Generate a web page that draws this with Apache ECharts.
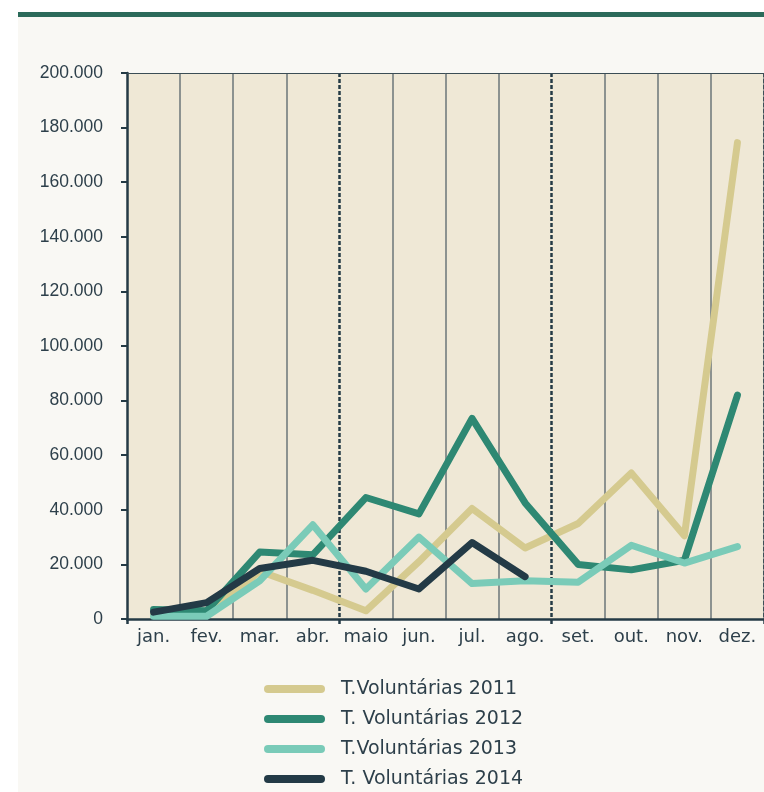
<!DOCTYPE html>
<html>
<head>
<meta charset="utf-8">
<script src="https://cdn.jsdelivr.net/npm/echarts@6/dist/echarts.min.js"></script>
<style>
  html, body { margin: 0; padding: 0; background: #ffffff; }
  #panel { position: absolute; left: 18px; top: 17px; width: 746px; height: 775px; background: #f9f8f4; }
  #bar { position: absolute; left: 18px; top: 12px; width: 746px; height: 5px; background: #2b6a5a; }
  #chart { position: absolute; left: 0; top: 0; width: 764px; height: 792px; }
</style>
</head>
<body>
<div id="panel"></div>
<div id="bar"></div>
<div id="chart"></div>
<script>
const months = ['jan.', 'fev.', 'mar.', 'abr.', 'maio', 'jun.', 'jul.', 'ago.', 'set.', 'out.', 'nov.', 'dez.'];
const names = ['T.Voluntárias 2011', 'T. Voluntárias 2012', 'T.Voluntárias 2013', 'T. Voluntárias 2014'];
const v2011 = [1500, 1500, 17500, 10500, 3000, 21000, 40500, 26000, 35000, 53500, 30500, 174500];
const v2012 = [3500, 3000, 24500, 23500, 44500, 38500, 73500, 42500, 20000, 18000, 21500, 82000];
const v2013 = [1000, 1000, 14000, 34500, 11000, 30000, 13000, 14000, 13500, 27000, 20500, 26500];
const v2014 = [2500, 6000, 18500, 21500, 17500, 11000, 28000, 15500];
const yTicks = { min: 0, max: 200000, step: 20000 };

const colors = ['#d5ca8f', '#2e8873', '#7acbb8', '#233a46'];
const textColor = '#2d3f4a';
const fontY = "'Liberation Sans', Arial, sans-serif";
const fontWide = "'DejaVu Sans', sans-serif";
const capsule = 'path://M4,0 L57,0 A4,4 0 0 1 57,8 L4,8 A4,4 0 0 1 4,0 Z';

function fmt(v) { return String(v).replace(/\B(?=(\d{3})+(?!\d))/g, '.'); }

const seriesData = [v2011, v2012, v2013, v2014];
const chart = echarts.init(document.getElementById('chart'), null, { renderer: 'canvas' });
chart.setOption({
  backgroundColor: 'transparent',
  animation: false,
  color: colors,
  grid: { left: 127, right: 0, top: 73, bottom: 173, show: true, backgroundColor: '#efe8d6', borderWidth: 0 },
  legend: {
    orient: 'vertical', left: 264, top: 679, height: 113, padding: 0,
    itemWidth: 61, itemHeight: 8, itemGap: 10,
    data: names.map(n => ({ name: n, icon: capsule })),
    textStyle: { fontFamily: fontWide, fontSize: 19, color: textColor, lineHeight: 20, padding: [0, 0, 0, 11] }
  },
  xAxis: [
    {
      type: 'category', data: months, boundaryGap: true,
      axisLine: { show: true, lineStyle: { color: '#243a45', width: 2.5 } },
      axisTick: { show: true, length: 5, interval: (i) => i % 4 === 0, lineStyle: { color: '#243a45', width: 2.5 } },
      axisLabel: { fontFamily: fontWide, fontSize: 18, color: textColor, margin: 9, interval: 0 },
      splitLine: { show: true, interval: (i) => i % 4 !== 0, lineStyle: { color: '#6b7679', width: 1.5 } }
    },
    {
      type: 'category', data: months, boundaryGap: true, position: 'top',
      axisLine: { show: true, lineStyle: { color: '#3b4d55', width: 1 } },
      axisTick: { show: false }, axisLabel: { show: false },
      splitLine: { show: true, interval: (i) => i % 4 === 0 && i > 0, lineStyle: { color: '#243a45', width: 2.5, type: [4, 2] } }
    }
  ],
  yAxis: {
    type: 'value', min: yTicks.min, max: yTicks.max, interval: yTicks.step,
    axisLine: { show: true, lineStyle: { color: '#243a45', width: 2.5 } },
    axisTick: { show: true, length: 6, lineStyle: { color: '#243a45', width: 2 } },
    axisLabel: { fontFamily: fontY, fontSize: 17.5, color: textColor, margin: 24, formatter: fmt },
    splitLine: { show: false }
  },
  series: names.map((n, i) => ({
    name: n, type: 'line', data: seriesData[i], symbol: 'none', smooth: false,
    lineStyle: { width: 7, color: colors[i], cap: 'round', join: 'round' },
    itemStyle: { color: colors[i] }
  }))
});
</script>
</body>
</html>
